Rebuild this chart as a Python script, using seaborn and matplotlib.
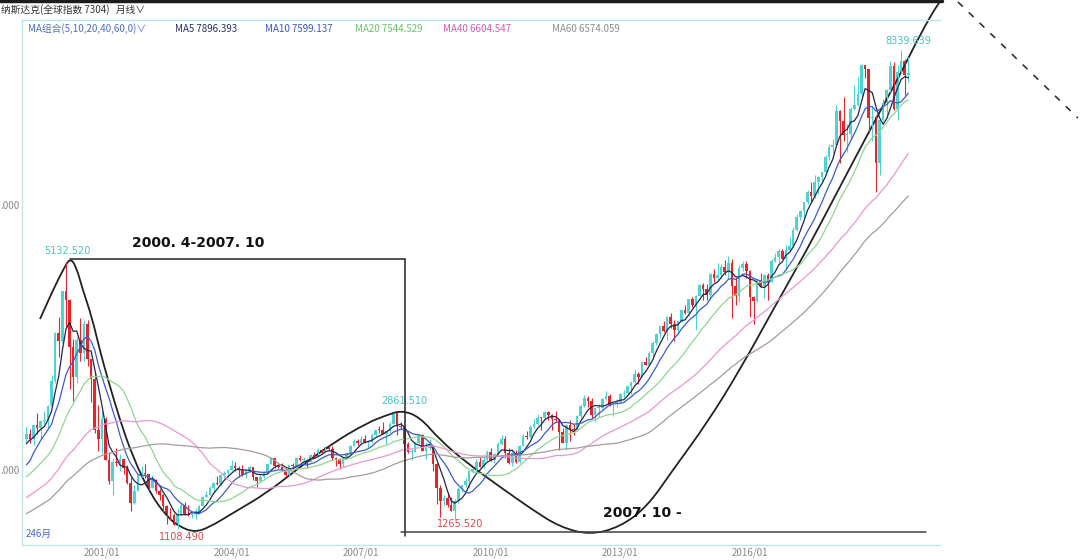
# Nasdaq composite, monthly candles with MA lines and hand drawn cycle marks.

import numpy as np
import pandas as pd
import seaborn as sns
import matplotlib
matplotlib.use('Agg')
import matplotlib.pyplot as plt
from matplotlib.lines import Line2D
from matplotlib.path import Path
from matplotlib.patches import PathPatch

sns.set_style('white')
plt.rcParams['font.family'] = ['Noto Sans CJK SC', 'DejaVu Sans']
plt.rcParams['axes.unicode_minus'] = False

# closes before the first candle (1994/04 - 1999/03), only used for the MAs
early_close = [733, 735, 706, 722, 765, 764, 777, 750, 752,
               755, 793, 817, 843, 864, 933, 1001, 1020, 1044, 1036, 1059, 1052,
               1059, 1100, 1101, 1191, 1243, 1185, 1081, 1141, 1227, 1222, 1293, 1291,
               1380, 1309, 1222, 1261, 1400, 1443, 1594, 1587, 1686, 1594, 1601, 1570,
               1619, 1771, 1836, 1869, 1779, 1895, 1873, 1499, 1694, 1771, 1950, 2193,
               2506, 2288, 2461]

# monthly candles 1999/04 - 2019/09 (246 months)
close = [2542, 2470, 2686, 2638, 2739, 2746, 2966, 3336, 4069,
         3940, 4696, 4573, 3860, 3400, 3966, 3767, 4206, 3673, 3370, 2598, 2471,
         2773, 2152, 1840, 2116, 2110, 2161, 2027, 1805, 1499, 1690, 1931, 1950,
         1934, 1731, 1845, 1688, 1616, 1463, 1328, 1315, 1172, 1330, 1479, 1336,
         1321, 1338, 1341, 1464, 1596, 1623, 1735, 1810, 1787, 1932, 1960, 2003,
         2066, 2030, 1994, 1920, 1987, 2048, 1887, 1838, 1897, 1975, 2097, 2175,
         2062, 2052, 1999, 1922, 2068, 2057, 2185, 2152, 2152, 2120, 2233, 2205,
         2306, 2281, 2340, 2323, 2179, 2172, 2091, 2184, 2258, 2367, 2432, 2415,
         2464, 2416, 2422, 2525, 2605, 2603, 2546, 2596, 2701, 2859, 2661, 2652,
         2389, 2271, 2279, 2413, 2523, 2293, 2326, 2368, 2092, 1721, 1536, 1577,
         1476, 1378, 1529, 1717, 1774, 1835, 1979, 2009, 2122, 2045, 2145, 2269,
         2147, 2238, 2398, 2461, 2257, 2109, 2255, 2114, 2369, 2507, 2498, 2653,
         2700, 2782, 2781, 2874, 2835, 2774, 2756, 2579, 2415, 2684, 2620, 2605,
         2814, 2967, 3092, 3046, 2827, 2935, 2940, 3067, 3116, 2977, 3010, 3020,
         3142, 3160, 3268, 3329, 3456, 3403, 3626, 3590, 3771, 3920, 4060, 4177,
         4104, 4308, 4199, 4115, 4243, 4408, 4370, 4580, 4493, 4631, 4792, 4736,
         4635, 4964, 4901, 4941, 5070, 4987, 5128, 4777, 4620, 5054, 5109, 5007,
         4614, 4558, 4870, 4775, 4948, 4843, 5162, 5213, 5312, 5189, 5324, 5383,
         5615, 5825, 5912, 6048, 6199, 6140, 6348, 6429, 6496, 6728, 6874, 6903,
         7411, 7273, 7063, 7066, 7442, 7510, 7672, 8110, 8046, 7306, 7331, 6635,
         7282, 7533, 7729, 8095, 7453, 8006, 8175, 7963, 7999]

high = [2652, 2620, 2686, 2864, 2761, 2888, 2982, 3437, 4090,
        4303, 4696, 5132.52, 4580, 3970, 4010, 4290, 4260, 4260, 3680, 3480, 2980,
        2892, 2800, 2270, 2180, 2328, 2247, 2165, 2080, 1900, 1776, 1941, 2065,
        2098, 1940, 1929, 1857, 1720, 1640, 1469, 1427, 1352, 1426, 1492, 1521,
        1467, 1359, 1425, 1478, 1601, 1685, 1765, 1820, 1914, 1941, 1990, 2010,
        2153, 2115, 2063, 2080, 1995, 2055, 2049, 1890, 1925, 1990, 2105, 2191,
        2185, 2096, 2100, 2010, 2078, 2100, 2190, 2220, 2190, 2160, 2240, 2278,
        2333, 2320, 2344, 2375, 2355, 2200, 2180, 2190, 2270, 2370, 2468, 2466,
        2509, 2531, 2460, 2560, 2610, 2660, 2725, 2600, 2720, 2861.51, 2860, 2730,
        2661, 2420, 2310, 2430, 2550, 2550, 2420, 2472, 2370, 2100, 1780, 1620,
        1664, 1600, 1563, 1750, 1780, 1880, 1990, 2030, 2167, 2190, 2205, 2295,
        2326, 2250, 2424, 2535, 2520, 2330, 2310, 2300, 2380, 2540, 2592, 2675,
        2767, 2840, 2800, 2888, 2888, 2850, 2887, 2770, 2640, 2700, 2750, 2690,
        2830, 2990, 3134, 3117, 3080, 2940, 2990, 3080, 3196, 3140, 3020, 3070,
        3160, 3215, 3270, 3330, 3530, 3480, 3630, 3700, 3800, 3950, 4070, 4180,
        4250, 4330, 4371, 4260, 4250, 4410, 4485, 4580, 4610, 4640, 4810, 4815,
        4800, 4970, 5040, 5120, 5110, 5164, 5231, 5180, 4920, 5100, 5160, 5160,
        5020, 4630, 4880, 4970, 4960, 4980, 5180, 5270, 5342, 5340, 5400, 5512,
        5670, 5867, 5928, 6050, 6220, 6342, 6460, 6440, 6500, 6760, 6914, 6990,
        7505, 7440, 7637, 7215, 7480, 7806, 7933, 8133, 8110, 8050, 7500, 7350,
        7290, 7600, 7750, 8176, 8165, 8110, 8339.64, 8200, 8240]

low = [2420, 2400, 2380, 2540, 2490, 2700, 2640, 2960, 3310,
       3712, 3910, 4140, 3227, 3042, 3320, 3640, 3650, 3570, 3025, 2560, 2288,
       2250, 2150, 1793, 1619, 2060, 1990, 1935, 1790, 1387, 1480, 1690, 1900,
       1885, 1696, 1726, 1660, 1549, 1370, 1192, 1241, 1168, 1108.49, 1319, 1320,
       1311, 1271, 1253, 1332, 1450, 1590, 1620, 1660, 1770, 1780, 1880, 1900,
       2000, 1990, 1900, 1915, 1880, 1970, 1848, 1750, 1830, 1880, 1970, 2090,
       2030, 2030, 1980, 1890, 1910, 2040, 2050, 2130, 2100, 2030, 2120, 2200,
       2190, 2240, 2250, 2300, 2150, 2065, 2012, 2040, 2160, 2240, 2360, 2380,
       2400, 2400, 2331, 2410, 2520, 2560, 2540, 2386, 2560, 2700, 2530, 2600,
       2202, 2260, 2155, 2270, 2395, 2290, 2167, 2300, 1980, 1493, 1295, 1450,
       1440, 1374, 1265.52, 1500, 1665, 1750, 1727, 1960, 1970, 2040, 2030, 2140,
       2140, 2100, 2230, 2380, 2185, 2090, 2061, 2100, 2110, 2360, 2470, 2490,
       2640, 2680, 2603, 2750, 2750, 2600, 2720, 2298, 2400, 2298, 2440, 2530,
       2590, 2790, 2950, 2950, 2780, 2726, 2800, 2920, 3050, 2970, 2810, 2950,
       3010, 3100, 3150, 3150, 3300, 3295, 3400, 3580, 3580, 3680, 3880, 3990,
       4090, 3967, 4140, 3947, 4050, 4230, 4350, 4320, 4460, 4117, 4620, 4560,
       4560, 4560, 4840, 4860, 4900, 4950, 4880, 4292, 4490, 4530, 5000, 4900,
       4313, 4210, 4540, 4760, 4600, 4570, 4840, 5140, 5130, 5180, 5030, 5300,
       5370, 5600, 5780, 5800, 6010, 6050, 6100, 6170, 6330, 6480, 6680, 6780,
       6890, 6630, 6970, 6800, 7000, 7440, 7500, 7600, 7920, 7080, 6960, 6190,
       6460, 7270, 7330, 7700, 7440, 7290, 7990, 7660, 7860]

ma_periods = [5, 10, 20, 40, 60]
ma_colors = ['#23234f', '#3b5bd0', '#8fd68f', '#e898cf', '#a89a9a']
ma_texts = ['MA5 7896.393', 'MA10 7599.137', 'MA20 7544.529', 'MA40 6604.547', 'MA60 6574.059']
ma_text_colors = ['#2b2b6b', '#3d55c4', '#6cc46c', '#d35fb4', '#8e8e8e']

tick_months = [0, 36, 72, 108, 144, 180]   # months from 2001/01
tick_labels = ['2001/01', '2004/01', '2007/01', '2010/01', '2013/01', '2016/01']
ytick_values = [2000, 6000]
ytick_labels = ['.000', '.000']   # the left part is cut off in the screenshot

# marked extremes: (month, value, label, colour)
peak_marks = [(-9.7, 5300, '5132.520', '#45c4c4'),
              (22.2, 989, '1108.490', '#e04848'),
              (83.9, 3042, '2861.510', '#45c4c4'),
              (99.4, 1185, '1265.520', '#e04848'),
              (223.9, 8475, '8339.639', '#45c4c4')]

# hand drawn cycle curve (month, index level)
curve_m = [-17.2, -13.6, -10.8, -8.9, -7.2, -5.3, -2.8, -0.6, 1.7, 5.0, 8.6, 13.3,
           18.1, 21.7, 25.8, 30.0, 36.4, 45.8, 55.0, 64.2, 73.6, 79.2, 83.3, 88.3,
           93.9, 101.4, 110.6, 119.7, 127.2, 135.6, 143.9, 151.4, 158.6, 168.1,
           177.2, 186.4, 195.8, 203.1, 213.3, 221.7, 227.2, 232.8, 235.0]
curve_v = [4279, 4717, 5019, 5200, 5079, 4717, 4309, 3811, 3359, 2755, 2196, 1653,
           1291, 1140, 1060, 1140, 1351, 1653, 2045, 2408, 2710, 2830, 2900, 2800,
           2453, 2106, 1744, 1396, 1140, 1020, 1140, 1442, 2000, 2710,
           3509, 4415, 5321, 6075, 7132, 7962, 8566, 9094, 9185]

df = pd.DataFrame({'m': np.arange(len(close)) - 21, 'close': close, 'high': high, 'low': low})
df['open'] = [early_close[-1]] + close[:-1]
all_close = pd.Series(early_close + close, dtype=float)
for n in ma_periods:
    df['MA%d' % n] = all_close.rolling(n).mean().values[len(early_close):]

fig = plt.figure(figsize=(10.8, 5.6), dpi=100)
ax = fig.add_axes([22 / 1080, 15 / 560, 918 / 1080, 525 / 560])

up = df['close'] >= df['open']
cols = np.where(up, '#4fd2d2', '#e3262c')
ax.vlines(df['m'], df['low'], df['high'], colors=cols, lw=0.8)
body = (df['close'] - df['open']).abs().clip(lower=12)
ax.bar(df['m'], body, bottom=np.minimum(df['open'], df['close']), width=0.75, color=cols, lw=0)

for n, c in zip(ma_periods, ma_colors):
    sns.lineplot(x=df['m'], y=df['MA%d' % n], ax=ax, color=c, lw=0.9, legend=False)

# hand drawn curve as a smooth bezier chain through the waypoints
pts = list(zip(curve_m, curve_v))
verts = [pts[0]]
codes = [Path.MOVETO]
for i in range(1, len(pts) - 1):
    mid = ((pts[i][0] + pts[i + 1][0]) / 2, (pts[i][1] + pts[i + 1][1]) / 2)
    verts += [pts[i], mid]
    codes += [Path.CURVE3, Path.CURVE3]
verts.append(pts[-1])
codes.append(Path.LINETO)
ax.add_patch(PathPatch(Path(verts, codes), fill=False, edgecolor='#222222', lw=1.3,
                       transform=ax.transData, clip_on=False))

ax.plot([237.8, 271.1], [9064, 7313], color='#333333', lw=1.2, ls=(0, (4, 5)), clip_on=False)
ax.plot([-9.0, 84.2], [5180, 5180], color='#222222', lw=1.1)
ax.plot([84.2, 84.2], [5180, 1000], color='#222222', lw=1.1)
ax.plot([83.0, 229.0], [1060, 1060], color='#444444', lw=1.1)
ax.text(26.7, 5426, '2000. 4-2007. 10', family='DejaVu Sans', fontweight='bold',
        fontsize=10, ha='center', va='center', color='#111111')
ax.text(150, 1351, '2007. 10 -', family='DejaVu Sans', fontweight='bold',
        fontsize=10, ha='center', va='center', color='#111111')

for m, v, t, c in peak_marks:
    ax.text(m, v, t, fontsize=7, color=c, ha='center', va='center', family='DejaVu Sans')
ax.text(0.004, 0.021, '246月', transform=ax.transAxes, fontsize=7, color='#4a66c8', va='center')

ax.set_xlim(-22.2, 232.8)
ax.set_ylim(868, 8792)
ax.set_xticks(tick_months)
ax.set_xticklabels(tick_labels)
ax.set_yticks(ytick_values)
ax.set_yticklabels(ytick_labels)
ax.tick_params(length=0, labelsize=7, colors='#8a8a8a', pad=2)
ax.set_xlabel('')
ax.set_ylabel('')
for s in ['left', 'top', 'bottom']:
    ax.spines[s].set_color('#bfe6e6')
    ax.spines[s].set_linewidth(1.0)
ax.spines['right'].set_visible(False)

# header rows
fig.text(1 / 1080, 1 - 10 / 560, '纳斯达克(全球指数 7304)   月线∨', fontsize=7, color='#333333', va='center')
fig.text(28 / 1080, 1 - 29 / 560, 'MA组合(5,10,20,40,60,0)∨', fontsize=7, color='#5070c8', va='center')
for x, t, c in zip([175, 265, 355, 443, 552], ma_texts, ma_text_colors):
    fig.text(x / 1080, 1 - 29 / 560, t, fontsize=7, color=c, va='center')
fig.add_artist(Line2D([0, 942 / 1080], [1 - 1 / 560, 1 - 1 / 560], color='#1c1c1c', lw=2.5))

plt.savefig('out.png', dpi=100)
